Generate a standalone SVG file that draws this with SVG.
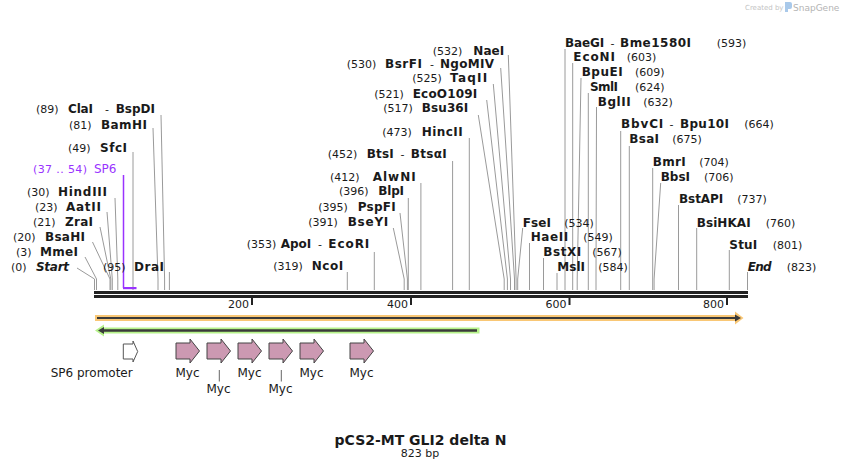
<svg xmlns="http://www.w3.org/2000/svg" width="842" height="470" viewBox="0 0 842 470">
<style>
text{font-family:"DejaVu Sans","Liberation Sans",sans-serif;fill:#1a1a1a}
.n{font-size:11px}
.b{font-size:12px;font-weight:bold}
.bi{font-size:12px;font-weight:bold;font-style:italic}
.p{fill:#9933ff}
.l{stroke:#9a9a9a;stroke-width:1;fill:none}
.f{font-size:12px}
.myc{fill:#cc99b2;stroke:#444;stroke-width:1}
.prom{fill:#fff;stroke:#555;stroke-width:1}
</style>
<defs>
<path id="arr" d="M0,4 H14 V0 L23.5,12 L14,24 V20 H0 Z"/>
</defs>
<rect width="842" height="470" fill="#fff"/>

<g id="watermark">
<text x="745" y="10" style="font-size:7px;fill:#c4c4c4">Created by</text>
<path d="M785,2 h5 a2,2 0 0 1 2,2 v3 a2,2 0 0 1 -2,2 h-2 v3 h-3 Z" fill="#a9c9ea"/>
<text x="793" y="11" style="font-size:9px;fill:#b4b4b4">SnapGene</text>
</g>

<g id="connectors">
<polyline class="l" points="77,268 94.5,279 94.5,290"/>
<polyline class="l" points="85,257 96.5,279 96.5,290"/>
<polyline class="l" points="92.5,242 110,279 110,290"/>
<polyline class="l" points="100,227 110.8,279 110.8,290"/>
<polyline class="l" points="107,212 112.3,279 112.3,290"/>
<polyline class="l" points="115,198 117.8,279 117.8,290"/>
<polyline class="l" points="133,152 133,290"/>
<polyline class="l" points="153,128 158,279 158,290"/>
<polyline class="l" points="161,115 164.6,279 164.6,290"/>
<polyline class="l" points="169.4,272 169.4,290"/>
<polyline class="l" points="508.3,55 516.1,279 516.1,290"/>
<polyline class="l" points="500.7,68 514.5,279 514.5,290"/>
<polyline class="l" points="493.3,84 510.5,279 510.5,290"/>
<polyline class="l" points="486.7,100 507.4,279 507.4,290"/>
<polyline class="l" points="478.3,115 504.2,279 504.2,290"/>
<polyline class="l" points="469.3,138 469.3,290"/>
<polyline class="l" points="452.6,161 452.6,290"/>
<polyline class="l" points="420.9,183 420.9,290"/>
<polyline class="l" points="408.3,198 408.3,290"/>
<polyline class="l" points="400,213 407.4,279 407.4,290"/>
<polyline class="l" points="393.3,228 404.2,279 404.2,290"/>
<polyline class="l" points="374.3,252 374.3,290"/>
<polyline class="l" points="347.3,272 347.3,290"/>
<polyline class="l" points="565,49 565,290"/>
<polyline class="l" points="572.7,63 572.7,290"/>
<polyline class="l" points="581,78 577.2,279 577.2,290"/>
<polyline class="l" points="588.3,93 588.3,290"/>
<polyline class="l" points="596.5,107 596,279 596,290"/>
<polyline class="l" points="620.7,131 620.7,290"/>
<polyline class="l" points="629.3,146 629.3,290"/>
<polyline class="l" points="652.7,168 652.7,290"/>
<polyline class="l" points="660.7,183 654.1,279 654.1,290"/>
<polyline class="l" points="678.5,205 678.5,290"/>
<polyline class="l" points="696.7,228 696.7,290"/>
<polyline class="l" points="729.3,250 729.3,290"/>
<polyline class="l" points="747.5,272 747.5,290"/>
<polyline class="l" points="522.7,228 517.7,279 517.7,290"/>
<polyline class="l" points="529.5,243 529.5,290"/>
<polyline class="l" points="543.5,258 543.5,290"/>
<polyline class="l" points="557,273 557,290"/>
<line x1="219.3" y1="370" x2="219.3" y2="381.5" stroke="#666" stroke-width="1"/>
<line x1="281.3" y1="370" x2="281.3" y2="381.5" stroke="#666" stroke-width="1"/>
</g>

<g id="backbone">
<rect x="94" y="291" width="654" height="3" fill="#222"/>
<rect x="94" y="295" width="654" height="3" fill="#222"/>
<rect x="251" y="298" width="2" height="7" fill="#222"/>
<rect x="410" y="298" width="2" height="7" fill="#222"/>
<rect x="568.5" y="298" width="2" height="7" fill="#222"/>
<rect x="726" y="298" width="2" height="7" fill="#222"/>
<text class="n" x="249" y="308" text-anchor="end">200</text>
<text class="n" x="408" y="308" text-anchor="end">400</text>
<text class="n" x="566.5" y="308" text-anchor="end">600</text>
<text class="n" x="724" y="308" text-anchor="end">800</text>
</g>

<g id="enz-start"><text class="n" x="11" y="271">(0)</text><text class="bi" x="36" y="271" textLength="33">Start</text></g>
<g id="enz-MmeI"><text class="n" x="16" y="256">(3)</text><text class="b" x="40" y="256" textLength="38">MmeI</text></g>
<g id="enz-BsaHI"><text class="n" x="13" y="241">(20)</text><text class="b" x="45" y="241" textLength="40">BsaHI</text></g>
<g id="enz-ZraI"><text class="n" x="33" y="226">(21)</text><text class="b" x="65" y="226" textLength="28">ZraI</text></g>
<g id="enz-AatII"><text class="n" x="35" y="211">(23)</text><text class="b" x="66" y="211" textLength="35">AatII</text></g>
<g id="enz-HindIII"><text class="n" x="27" y="196">(30)</text><text class="b" x="58" y="196" textLength="49">HindIII</text></g>
<g id="primer-SP6">
<text class="n p" x="33" y="173" textLength="54">(37 .. 54)</text><text class="p" x="94" y="173" style="font-size:12px">SP6</text>
<line x1="123.5" y1="175" x2="123.5" y2="288" stroke="#9933ff" stroke-width="1.5"/>
<rect x="123" y="287" width="13.5" height="2.2" fill="#9933ff"/>
</g>
<g id="enz-SfcI"><text class="n" x="68" y="152">(49)</text><text class="b" x="100" y="152" textLength="27">SfcI</text></g>
<g id="enz-BamHI"><text class="n" x="69" y="129">(81)</text><text class="b" x="101" y="129" textLength="46">BamHI</text></g>
<g id="enz-ClaI"><text class="n" x="36" y="113">(89)</text><text class="b" x="68" y="113" textLength="25">ClaI</text><text class="n" x="105" y="113">-</text><text class="b" x="115.7" y="113" textLength="39.3">BspDI</text></g>
<g id="enz-DraI"><text class="n" x="103" y="271">(95)</text><text class="b" x="134" y="271" textLength="30">DraI</text></g>

<g id="enz-NaeI"><text class="n" x="432.7" y="55">(532)</text><text class="b" x="473.3" y="55" textLength="31">NaeI</text></g>
<g id="enz-BsrFI"><text class="n" x="346.7" y="68">(530)</text><text class="b" x="385" y="68" textLength="37">BsrFI</text><text class="n" x="430" y="68">-</text><text class="b" x="440" y="68" textLength="54">NgoMIV</text></g>
<g id="enz-TaqII"><text class="n" x="412.3" y="82">(525)</text><text class="b" x="450" y="82" textLength="37.3">TaqII</text></g>
<g id="enz-EcoO109I"><text class="n" x="374.3" y="98">(521)</text><text class="b" x="412.7" y="98" textLength="64.6">EcoO109I</text></g>
<g id="enz-Bsu36I"><text class="n" x="383.3" y="112">(517)</text><text class="b" x="421.7" y="112" textLength="46.6">Bsu36I</text></g>
<g id="enz-HincII"><text class="n" x="382.3" y="136">(473)</text><text class="b" x="421.7" y="136" textLength="41">HincII</text></g>
<g id="enz-BtsI"><text class="n" x="327.7" y="158">(452)</text><text class="b" x="366.7" y="158" textLength="27">BtsI</text><text class="n" x="400.5" y="158">-</text><text class="b" x="410.7" y="158" textLength="36">BtsαI</text></g>
<g id="enz-AlwNI"><text class="n" x="330" y="181">(412)</text><text class="b" x="372.7" y="181" textLength="43">AlwNI</text></g>
<g id="enz-BlpI"><text class="n" x="339" y="195">(396)</text><text class="b" x="378.3" y="195" textLength="25.7">BlpI</text></g>
<g id="enz-PspFI"><text class="n" x="318.3" y="211">(395)</text><text class="b" x="357.7" y="211" textLength="38">PspFI</text></g>
<g id="enz-BseYI"><text class="n" x="308.3" y="226">(391)</text><text class="b" x="347.7" y="226" textLength="40.6">BseYI</text></g>
<g id="enz-ApoI"><text class="n" x="246.7" y="248">(353)</text><text class="b" x="280.7" y="248">ApoI</text><text class="n" x="318" y="248">-</text><text class="b" x="328.3" y="248" textLength="41">EcoRI</text></g>
<g id="enz-NcoI"><text class="n" x="273.3" y="270">(319)</text><text class="b" x="311.7" y="270" textLength="31.6">NcoI</text></g>

<g id="enz-BaeGI"><text class="b" x="565" y="47" textLength="39.3">BaeGI</text><text class="n" x="610.5" y="47">-</text><text class="b" x="620" y="47" textLength="71">Bme1580I</text><text class="n" x="716.7" y="47">(593)</text></g>
<g id="enz-EcoNI"><text class="b" x="573.3" y="61" textLength="41.7">EcoNI</text><text class="n" x="626.7" y="61">(603)</text></g>
<g id="enz-BpuEI"><text class="b" x="581.7" y="76" textLength="41">BpuEI</text><text class="n" x="635" y="76">(609)</text></g>
<g id="enz-SmlI"><text class="b" x="590" y="91" textLength="28">SmlI</text><text class="n" x="635" y="91">(624)</text></g>
<g id="enz-BglII"><text class="b" x="597.7" y="106" textLength="33">BglII</text><text class="n" x="643.3" y="106">(632)</text></g>
<g id="enz-BbvCI"><text class="b" x="621" y="128" textLength="42.3">BbvCI</text><text class="n" x="669.5" y="128">-</text><text class="b" x="680" y="128" textLength="49">Bpu10I</text><text class="n" x="744.3" y="128">(664)</text></g>
<g id="enz-BsaI"><text class="b" x="629.3" y="143" textLength="29.7">BsaI</text><text class="n" x="672.3" y="143">(675)</text></g>
<g id="enz-BmrI"><text class="b" x="652.7" y="166" textLength="33">BmrI</text><text class="n" x="699.3" y="166">(704)</text></g>
<g id="enz-BbsI"><text class="b" x="660.7" y="181" textLength="29.3">BbsI</text><text class="n" x="704" y="181">(706)</text></g>
<g id="enz-BstAPI"><text class="b" x="679" y="203" textLength="44.3">BstAPI</text><text class="n" x="737.3" y="203">(737)</text></g>
<g id="enz-BsiHKAI"><text class="b" x="696.7" y="226.5" textLength="54">BsiHKAI</text><text class="n" x="765.7" y="226.5">(760)</text></g>
<g id="enz-StuI"><text class="b" x="729.3" y="248.5" textLength="28">StuI</text><text class="n" x="772.7" y="248.5">(801)</text></g>
<g id="enz-end"><text class="bi" x="747.7" y="271" textLength="24">End</text><text class="n" x="786.7" y="271">(823)</text></g>
<g id="enz-FseI"><text class="b" x="522.7" y="226.5" textLength="28.3">FseI</text><text class="n" x="564.3" y="226.5">(534)</text></g>
<g id="enz-HaeII"><text class="b" x="530.7" y="241" textLength="37.6">HaeII</text><text class="n" x="583.3" y="241">(549)</text></g>
<g id="enz-BstXI"><text class="b" x="543.3" y="256" textLength="38">BstXI</text><text class="n" x="592.3" y="256">(567)</text></g>
<g id="enz-MslI"><text class="b" x="557.3" y="271" textLength="27.7">MslI</text><text class="n" x="598.3" y="271">(584)</text></g>

<g id="feature-orange">
<path d="M95,315 H735 V311.5 L743.5,318 L735,324.5 V321 H95 Z" fill="#f9c775"/>
<path d="M97,317 H735 V314.5 L741,318 L735,321.5 V319 H97 Z" fill="#3a3a3a"/>
</g>
<g id="feature-green">
<path d="M479.5,327.5 H104 V324.5 L95,330.5 L104,336.5 V333.5 H479.5 Z" fill="#b6f28a"/>
<path d="M477,329.3 H104 V327 L98,330.5 L104,334 V331.7 H477 Z" fill="#3a3a3a"/>
</g>

<g id="feature-sp6-promoter">
<path class="prom" d="M123.3,344 H133 V341 L137.7,351.5 L133,362 V359 H123.3 Z"/>
<text class="f" x="91.7" y="377" text-anchor="middle">SP6 promoter</text>
</g>
<g id="myc1"><use href="#arr" class="myc" transform="translate(176,339)"/><text class="f" x="187.5" y="377" text-anchor="middle">Myc</text></g>
<g id="myc2"><use href="#arr" class="myc" transform="translate(207,339)"/><text class="f" x="218.5" y="393" text-anchor="middle">Myc</text></g>
<g id="myc3"><use href="#arr" class="myc" transform="translate(238,339)"/><text class="f" x="249.5" y="377" text-anchor="middle">Myc</text></g>
<g id="myc4"><use href="#arr" class="myc" transform="translate(269,339)"/><text class="f" x="280.5" y="393" text-anchor="middle">Myc</text></g>
<g id="myc5"><use href="#arr" class="myc" transform="translate(300,339)"/><text class="f" x="311.5" y="377" text-anchor="middle">Myc</text></g>
<g id="myc6"><use href="#arr" class="myc" transform="translate(350,339)"/><text class="f" x="361.5" y="377" text-anchor="middle">Myc</text></g>

<g id="title">
<text x="420.5" y="444.5" text-anchor="middle" style="font-size:14px;font-weight:bold">pCS2-MT GLI2 delta N</text>
<text x="420" y="457" text-anchor="middle" style="font-size:11px">823 bp</text>
</g>
</svg>
